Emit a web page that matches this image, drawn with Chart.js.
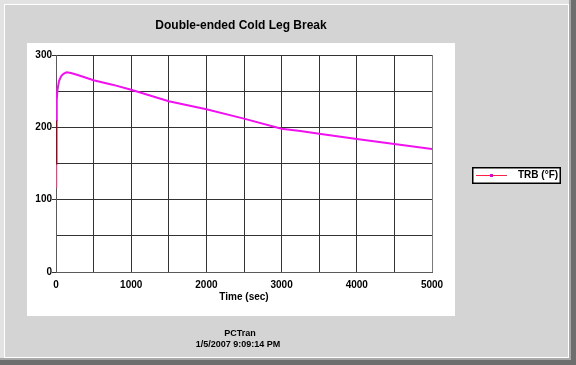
<!DOCTYPE html>
<html>
<head>
<meta charset="utf-8">
<script src="https://cdn.jsdelivr.net/npm/chart.js@4/dist/chart.umd.min.js"></script>
<style>
  html, body { margin: 0; padding: 0; background: #d4d4d4; }
  #wrap { width: 576px; height: 365px; }
</style>
</head>
<body>
<div id="wrap"><canvas id="c" width="576" height="365"></canvas></div>
<script>
// ---- data ----
const titleText = 'Double-ended Cold Leg Break';
const xAxisTitle = 'Time (sec)';
const seriesLabel = 'TRB (°F)';
const footerLines = ['PCTran', '1/5/2007 9:09:14 PM'];
const timeSec = [0, 3, 6, 10, 20, 40, 70, 100, 140, 200, 300, 500, 750, 1000, 1250, 1500, 2000, 2500, 3000, 3250, 3500, 4000, 4500, 5000];
const trbF    = [118, 150, 210, 238, 252, 264, 271, 274, 276, 275, 272, 265, 259, 252, 244, 236, 225, 212, 198, 195, 191, 184, 177, 170];
const xMin = 0, xMax = 5000, xStep = 500, xLabelEvery = 1000;
const yMin = 0, yMax = 300, yStep = 50, yLabelEvery = 100;

const FONT = '"Liberation Sans", Arial, sans-serif';
const points = timeSec.map((t, i) => ({ x: t, y: trbF[i] }));

const framePlugin = {
  id: 'frame',
  beforeDraw(chart) {
    const ctx = chart.ctx;
    ctx.save();
    ctx.fillStyle = '#d4d4d4';
    ctx.fillRect(0, 0, 576, 365);
    // outer bevel
    ctx.fillStyle = '#e2e2e2';
    ctx.fillRect(0, 0, 576, 4);
    ctx.fillRect(0, 0, 4, 365);
    ctx.fillStyle = '#ffffff';
    ctx.fillRect(4, 4, 565, 1);
    ctx.fillRect(4, 4, 1, 354);
    ctx.fillRect(568, 4, 1, 354);
    ctx.fillRect(4, 357, 565, 1);
    ctx.fillStyle = '#a8a8a8';
    ctx.fillRect(569, 0, 2, 365);
    ctx.fillRect(0, 358, 576, 2);
    ctx.fillStyle = '#6e6e6e';
    ctx.fillRect(571, 0, 5, 365);
    ctx.fillRect(0, 360, 576, 5);
    // white plot panel
    ctx.fillStyle = '#ffffff';
    ctx.fillRect(27, 43, 428, 273);
    ctx.restore();
  },
  afterDraw(chart) {
    const ctx = chart.ctx;
    ctx.save();
    // title
    ctx.fillStyle = '#000';
    ctx.textAlign = 'center';
    ctx.textBaseline = 'middle';
    ctx.font = 'bold 12px ' + FONT;
    ctx.fillText(titleText, 241, 26);
    // footer
    ctx.font = 'bold 9px ' + FONT;
    ctx.fillText(footerLines[0], 240, 334);
    ctx.fillText(footerLines[1], 238, 344.5);
    // legend
    ctx.fillStyle = '#ffffff';
    ctx.fillRect(473, 168, 87, 15);
    ctx.strokeStyle = '#000';
    ctx.lineWidth = 1.5;
    ctx.strokeRect(472.75, 167.75, 87.5, 15.5);
    ctx.strokeStyle = '#ff2048';
    ctx.lineWidth = 1;
    ctx.beginPath();
    ctx.moveTo(476, 175.5);
    ctx.lineTo(507, 175.5);
    ctx.stroke();
    ctx.fillStyle = '#e000e0';
    ctx.fillRect(490, 174, 3, 3);
    ctx.fillStyle = '#000';
    ctx.textAlign = 'left';
    ctx.font = 'bold 10px ' + FONT;
    ctx.fillText(seriesLabel, 518, 175.5);
    ctx.restore();
  }
};

new Chart(document.getElementById('c'), {
  type: 'scatter',
  data: {
    datasets: [{
      label: seriesLabel,
      data: points,
      showLine: true,
      borderColor: '#f010f0',
      borderWidth: 2,
      pointRadius: 0,
      tension: 0,
      segment: {
        borderColor: (c) => c.p0DataIndex === 0 ? '#ff3a80' : (c.p0DataIndex === 1 ? '#a00018' : '#f010f0')
      }
    }]
  },
  options: {
    responsive: false,
    animation: false,
    devicePixelRatio: 1,
    layout: { padding: { left: 0, right: 144, top: 55, bottom: 62 } },
    plugins: {
      legend: { display: false },
      title: { display: false },
      tooltip: { enabled: false }
    },
    scales: {
      x: {
        type: 'linear',
        min: xMin, max: xMax,
        afterFit(s) { s.height = 31; },
        border: { display: true, color: '#5a5a5a', width: 1 },
        grid: {
          color: (c) => c.tick && c.tick.value === xMax ? '#7a7a7a' : '#333333',
          lineWidth: 1,
          drawTicks: false
        },
        ticks: {
          stepSize: xStep,
          autoSkip: false,
          maxRotation: 0,
          padding: 7,
          color: '#000',
          font: { family: FONT, size: 10, weight: 'bold' },
          callback: (v) => (v % xLabelEvery === 0 ? String(v) : '')
        },
        title: {
          display: true,
          text: xAxisTitle,
          color: '#000',
          padding: { top: 0, bottom: 0 },
          font: { family: FONT, size: 10, weight: 'bold' }
        }
      },
      y: {
        min: yMin, max: yMax,
        afterFit(s) { s.width = 56; },
        border: { display: true, color: '#5a5a5a', width: 1 },
        grid: {
          color: '#333333',
          lineWidth: 1,
          drawTicks: true,
          tickLength: 4,
          tickColor: (c) => (c.tick && c.tick.value % yLabelEvery === 0 ? '#333333' : 'rgba(0,0,0,0)')
        },
        ticks: {
          stepSize: yStep,
          autoSkip: false,
          padding: 0,
          color: '#000',
          font: { family: FONT, size: 10, weight: 'bold' },
          callback: (v) => (v % yLabelEvery === 0 ? String(v) : '')
        }
      }
    }
  },
  plugins: [framePlugin]
});
</script>
</body>
</html>
